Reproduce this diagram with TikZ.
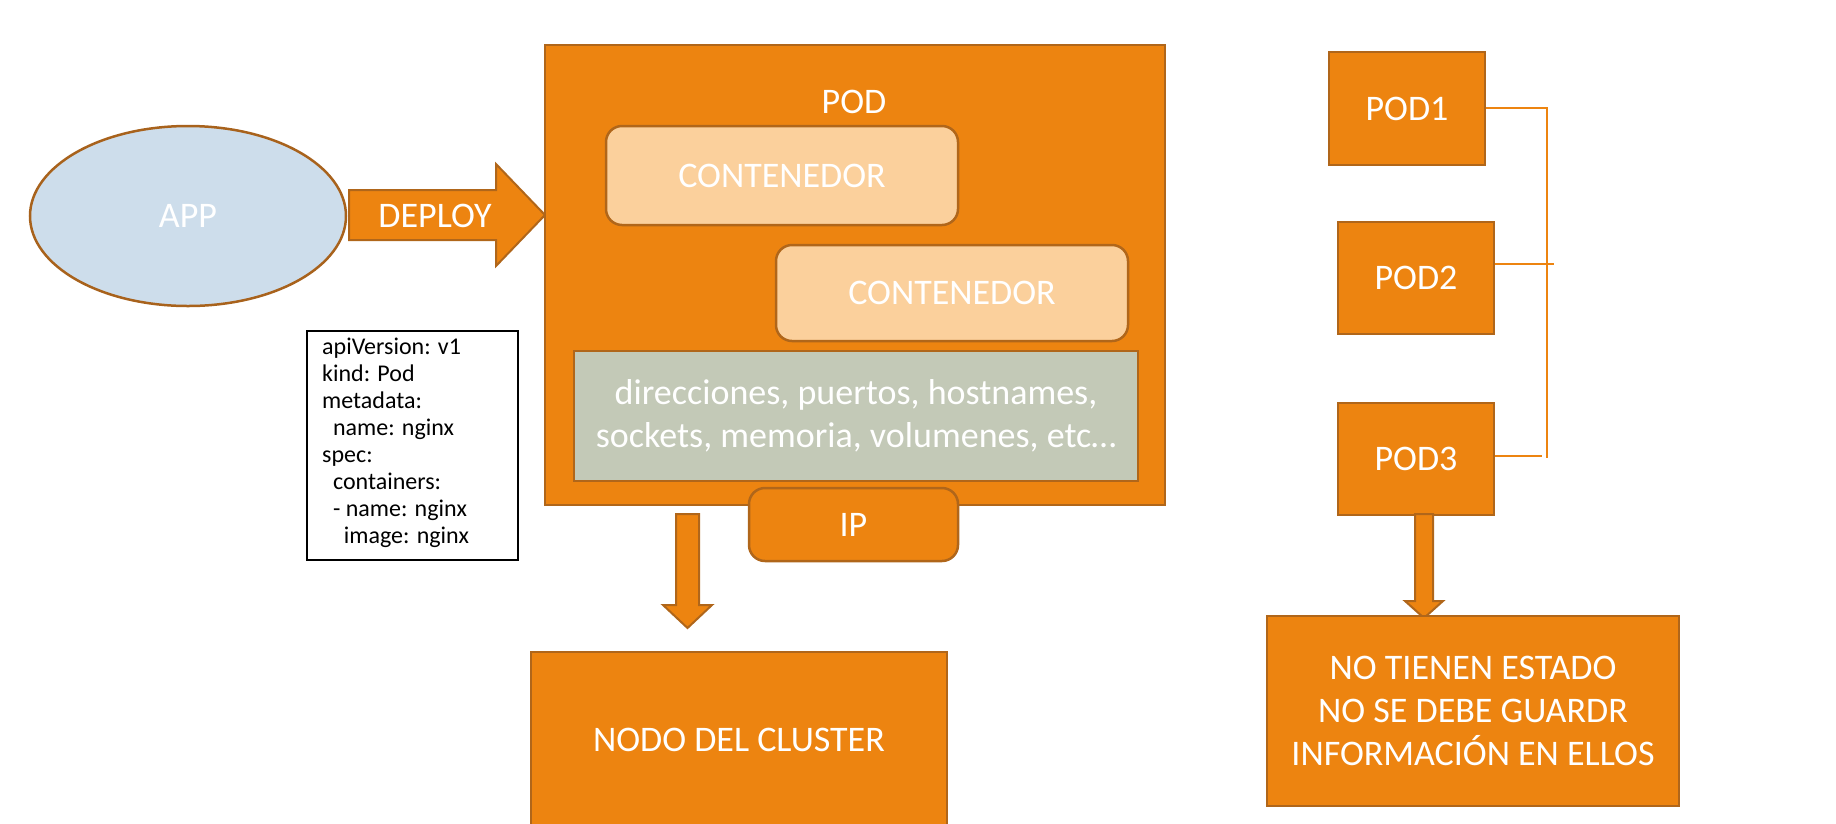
\documentclass[tikz,border=0pt]{standalone}
\usepackage{fontspec}
\setmainfont{Carlito}
\usetikzlibrary{shapes.geometric}
\definecolor{orng}{HTML}{ED8410}
\definecolor{brd}{HTML}{B0661A}
\definecolor{peach}{HTML}{FBD09C}
\definecolor{greybox}{HTML}{C3C9B7}
\definecolor{appblue}{HTML}{CDDDEB}
\definecolor{appbrd}{HTML}{A8621C}
\begin{document}
\begin{tikzpicture}[x=1pt,y=-1pt,
  box/.style={draw=brd, line width=2.5pt, fill=orng, inner sep=0pt},
  big/.style={text=white, font=\fontsize{36}{43}\selectfont, align=center},
  rbox/.style={box, rounded corners=16pt},
  conn/.style={draw=orng, line width=2pt},
  blockarrow/.style={draw=brd, line width=2pt, fill=orng}]
\useasboundingbox (0,0) rectangle (1836,823);
% APP ellipse
\node[ellipse, draw=appbrd, line width=2.5pt, fill=appblue, minimum width=316pt, minimum height=180pt, big] (app) at (188,216) {APP};
% DEPLOY arrow
\draw[blockarrow] (349,190) -- (496,190) -- (496,164) -- (545,215) -- (496,266) -- (496,240) -- (349,240) -- cycle;
\node[big, inner sep=0pt] (deploy) at (435,216) {DEPLOY};
% POD
\node[box, minimum width=620pt, minimum height=460pt] (pod) at (855,275) {};
\node[big, inner sep=0pt] (podlbl) at (854,102) {POD};
\node[rbox, fill=peach, minimum width=352pt, minimum height=99pt, big] (c1) at (782,175.5) {CONTENEDOR};
\node[rbox, fill=peach, minimum width=352pt, minimum height=96pt, big] (c2) at (952,293) {CONTENEDOR};
\node[box, fill=greybox, minimum width=564pt, minimum height=130pt, big] (res) at (856,416) {direcciones, puertos, hostnames,\\sockets, memoria, volumenes, etc\ldots};
\node[rbox, minimum width=209pt, minimum height=73pt, big] (ip) at (853.5,524.5) {IP};
% arrow to cluster node
\draw[blockarrow] (676,514) -- (699,514) -- (699,605) -- (712,605) -- (687.5,628) -- (663,605) -- (676,605) -- cycle;
\node[box, minimum width=416pt, minimum height=176pt, big] (nodo) at (739,740) {NODO DEL CLUSTER};
% YAML
\node[draw=black, line width=2pt, fill=white, minimum width=211pt, minimum height=229pt] (yamlbox) at (412.5,445.5) {};
\node[anchor=north west, align=left, inner sep=0pt, font=\fontsize{24}{27}\selectfont] (yaml) at (322,338) {apiVersion: v1\\kind: Pod\\metadata:\\\ \ name: nginx\\spec:\\\ \ containers:\\\ \ - name: nginx\\\ \ \ \ image: nginx};
% PODs
\node[box, minimum width=156pt, minimum height=113pt, big] (pod1) at (1407,108.5) {POD1};
\node[box, minimum width=156pt, minimum height=112pt, big] (pod2) at (1416,278) {POD2};
\node[box, minimum width=156pt, minimum height=112pt, big] (pod3) at (1416,459) {POD3};
\coordinate (b1) at (1547,108);
\coordinate (b3) at (1547,458);
\coordinate (b2) at (1554,264);
\coordinate (b3e) at (1542,456);
\draw[conn] (pod1.east |- b1) -- (b1) -- (b3);
\draw[conn] (pod2.east |- b2) -- (b2);
\draw[conn] (pod3.east |- b3e) -- (b3e);
% arrow to state box
\draw[blockarrow] (1415,514) -- (1433,514) -- (1433,601) -- (1443,601) -- (1424,618) -- (1405,601) -- (1415,601) -- cycle;
\node[box, minimum width=412pt, minimum height=190pt, big] (estado) at (1473,711) {NO TIENEN ESTADO\\NO SE DEBE GUARDR\\INFORMACIÓN EN ELLOS};
\end{tikzpicture}
\end{document}
